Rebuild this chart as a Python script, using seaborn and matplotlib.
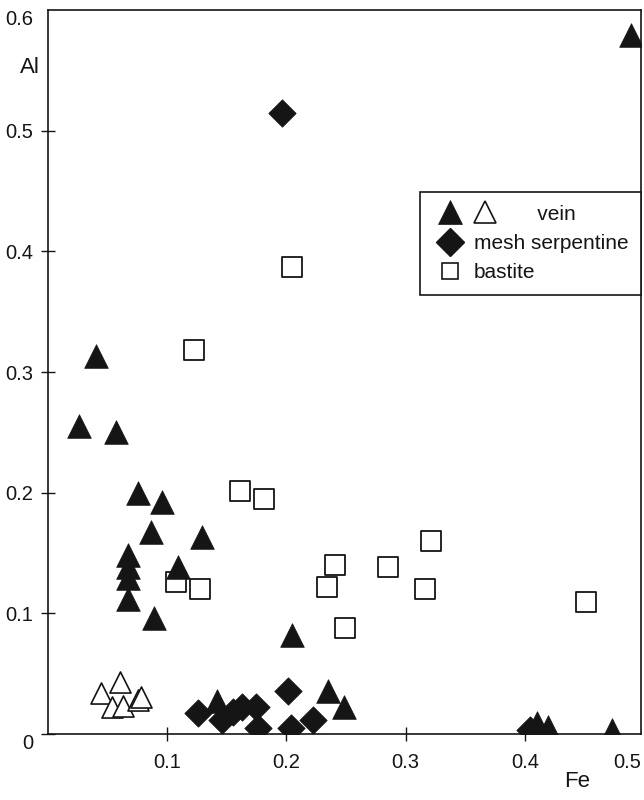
import matplotlib
matplotlib.use("Agg")
import matplotlib.pyplot as plt
import seaborn as sns
import pandas as pd
from matplotlib.lines import Line2D
from matplotlib.legend_handler import HandlerBase

# ---- data ----
vein_fe = [0.489, 0.041, 0.026, 0.057, 0.076, 0.096, 0.087, 0.129, 0.067, 0.067,
           0.067, 0.067, 0.109, 0.089, 0.205, 0.142, 0.235, 0.248, 0.410, 0.419, 0.473]
vein_al = [0.579, 0.313, 0.255, 0.250, 0.200, 0.192, 0.167, 0.163, 0.148, 0.138,
           0.129, 0.112, 0.138, 0.096, 0.082, 0.027, 0.036, 0.022, 0.009, 0.006, 0.003]

vein_open_fe = [0.045, 0.061, 0.054, 0.063, 0.076, 0.078]
vein_open_al = [0.034, 0.043, 0.022, 0.023, 0.028, 0.031]

mesh_fe = [0.196, 0.126, 0.146, 0.155, 0.163, 0.175, 0.176, 0.201, 0.204, 0.222, 0.404]
mesh_al = [0.515, 0.017, 0.012, 0.018, 0.022, 0.022, 0.005, 0.036, 0.005, 0.012, 0.003]

bastite_fe = [0.205, 0.123, 0.161, 0.181, 0.108, 0.128, 0.241, 0.234, 0.249,
              0.285, 0.321, 0.316, 0.451]
bastite_al = [0.387, 0.318, 0.2015, 0.195, 0.126, 0.120, 0.140, 0.122, 0.088,
              0.138, 0.160, 0.120, 0.109]

x_ticks = [0.1, 0.2, 0.3, 0.4]
x_tick_labels = ["0.1", "0.2", "0.3", "0.4", "0.5"]
y_ticks = [0.0, 0.1, 0.2, 0.3, 0.4, 0.5, 0.6]
y_tick_labels = ["0", "0.1", "0.2", "0.3", "0.4", "0.5", "0.6"]
legend_labels = ["vein", "mesh serpentine", "bastite"]

# ---- style ----
sns.set_style("ticks")
plt.rcParams["font.family"] = ["Liberation Sans", "DejaVu Sans"]

INK = "#151515"
fig = plt.figure(figsize=(6.44, 8.0), dpi=100)
ax = fig.add_axes([47.5 / 644, 66 / 800, (641 - 47.5) / 644, 724 / 800])

df_vein = pd.DataFrame({"Fe": vein_fe, "Al": vein_al})
df_open = pd.DataFrame({"Fe": vein_open_fe, "Al": vein_open_al})
df_mesh = pd.DataFrame({"Fe": mesh_fe, "Al": mesh_al})
df_bast = pd.DataFrame({"Fe": bastite_fe, "Al": bastite_al})

sns.scatterplot(data=df_bast, x="Fe", y="Al", marker="s", s=190,
                facecolor="white", edgecolor=INK, linewidth=1.3, ax=ax, zorder=3)
sns.scatterplot(data=df_open, x="Fe", y="Al", marker="^", s=230,
                facecolor="white", edgecolor=INK, linewidth=1.2, ax=ax, zorder=3)
sns.scatterplot(data=df_mesh, x="Fe", y="Al", marker="D", s=195,
                color=INK, edgecolor=INK, linewidth=0.5, ax=ax, zorder=4)
sns.scatterplot(data=df_vein, x="Fe", y="Al", marker="^", s=290,
                color=INK, edgecolor=INK, linewidth=0.5, ax=ax, zorder=4)

xmax = 0.497
ax.set_xlim(0, xmax)
ax.set_ylim(0, 0.6)

ax.set_xticks(x_ticks + [xmax])
ax.set_xticklabels(x_tick_labels)
ax.set_yticks(y_ticks)
ax.set_yticklabels(y_tick_labels)
ax.tick_params(axis="both", direction="inout", length=10, width=1.0,
               color=INK, labelsize=14.5, labelcolor=INK)
ax.tick_params(axis="x", pad=9)
ax.tick_params(axis="y", pad=5)

xl = ax.get_xticklabels()
xl[-1].set_ha("right")
yl = ax.get_yticklabels()
yl[0].set_va("top")
yl[-1].set_va("top")
ax.yaxis.get_major_ticks()[-1].tick1line.set_visible(False)
ax.xaxis.get_major_ticks()[-1].tick1line.set_visible(False)

ax.set_xlabel("")
ax.set_ylabel("")
for sp in ax.spines.values():
    sp.set_visible(True)
    sp.set_linewidth(1.2)
    sp.set_color(INK)

ax.text(-0.03, 0.92, "Al", transform=ax.transAxes, fontsize=16,
        ha="center", va="center", color=INK)
ax.text(0.892, -0.066, "Fe", transform=ax.transAxes, fontsize=16,
        ha="center", va="center", color=INK, clip_on=False)


# ---- legend ----
class TwoTriangles(HandlerBase):
    def create_artists(self, legend, orig_handle, xdescent, ydescent,
                       width, height, fontsize, trans):
        h1, h2 = orig_handle
        cx = width / 2 - xdescent
        cy = height / 2 - ydescent
        a1 = Line2D([cx], [cy], ls="none", marker="^", markersize=17,
                    mfc=INK, mec=INK, mew=0.5, transform=trans)
        a2 = Line2D([cx + width * 1.0], [cy], ls="none", marker="^",
                    markersize=16.5, mfc="white", mec=INK, mew=1.2,
                    transform=trans)
        return [a1, a2]


h_filled = Line2D([], [], ls="none", marker="^", markersize=17, mfc=INK, mec=INK)
h_open = Line2D([], [], ls="none", marker="^", markersize=16.5, mfc="white", mec=INK)
h_mesh = Line2D([], [], ls="none", marker="D", markersize=14.5, mfc=INK, mec=INK)
h_bast = Line2D([], [], ls="none", marker="s", markersize=11.5, mfc="white",
                mec=INK, mew=1.2)

leg = ax.legend([(h_filled, h_open), h_mesh, h_bast],
                [" " * 11 + legend_labels[0], legend_labels[1], legend_labels[2]],
                handler_map={tuple: TwoTriangles()},
                loc="upper right", bbox_to_anchor=(1.0, 0.7486),
                borderaxespad=0, frameon=True, fancybox=False,
                fontsize=15, handlelength=1.7, handletextpad=0.3,
                borderpad=0.6, labelspacing=0.5)
leg.get_frame().set_edgecolor(INK)
leg.get_frame().set_linewidth(1.2)
leg.get_frame().set_alpha(1)
for t in leg.get_texts():
    t.set_color(INK)

fig.savefig("out.png", dpi=100)
